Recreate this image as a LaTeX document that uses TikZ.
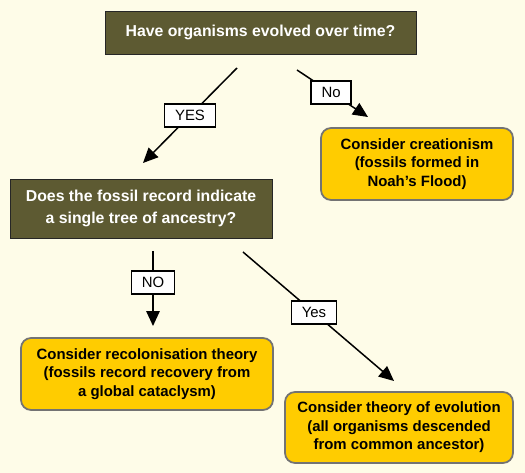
\documentclass[tikz,border=0pt]{standalone}
\usepackage{fontspec}
\setmainfont{Liberation Sans}
\usetikzlibrary{arrows.meta, positioning}
\definecolor{cream}{HTML}{FEFCE8}
\definecolor{olivebox}{HTML}{5D5A32}
\definecolor{goldbox}{HTML}{FFCC00}
\tikzset{
    question/.style={ % Dark boxes holding the questions
    draw=black!85,
    fill=olivebox,
    text=white,
    font=\bfseries\fontsize{9}{12.5}\selectfont,
    align=center},
    answer/.style={ % Yellow boxes with the conclusions
    draw=black!55,
    line width=1pt,
    fill=goldbox,
    rounded corners=0.2cm,
    font=\bfseries\fontsize{8.5}{10.6}\selectfont,
    align=center},
    choice/.style={ % Little white labels on the arrows
    draw,
    fill=white,
    font=\fontsize{8.5}{10}\selectfont,
    inner xsep=6pt,
    minimum height=0.46cm},
    flow/.style={ % The arrows, with big filled heads
    draw,
    line width=0.85pt,
    -{Triangle[length=0.3cm, width=0.27cm]}}}
\begin{document}
\begin{tikzpicture}[x=0.02cm, y=-0.02cm]
    % Page
    \fill[cream] (0, 0) rectangle (525, 473);
    \useasboundingbox (0, 0) rectangle (525, 473);

    % Questions
    \node[question, minimum width=6.22cm, minimum height=0.86cm] (evolved) at (260.5, 32.5)
        {Have organisms evolved over time?};
    \node[question, minimum width=5.24cm, minimum height=1.18cm] (tree) at (141, 208.5)
        {Does the fossil record indicate\\a single tree of ancestry?};

    % Conclusions
    \node[answer, minimum width=3.84cm, minimum height=1.44cm] (creation) at (417, 164)
        {Consider creationism\\(fossils formed in\\Noah’s Flood)};
    \node[answer, minimum width=5.04cm, minimum height=1.44cm] (recolon) at (147, 374)
        {Consider recolonisation theory\\(fossils record recovery from\\a global cataclysm)};
    \node[answer, minimum width=4.56cm, minimum height=1.42cm] (evolution) at (399, 427.5)
        {Consider theory of evolution\\(all organisms descended\\from common ancestor)};

    % Arrow ends
    \coordinate (yesFrom) at (237, 68);
    \coordinate (yesTo) at (143, 163);
    \coordinate (noFrom) at (297, 70);
    \coordinate (noTo) at (368, 117);
    \coordinate (treeNoFrom) at (153, 251);
    \coordinate (treeNoTo) at (153, 326);
    \coordinate (treeYesFrom) at (243, 252);
    \coordinate (treeYesTo) at (394, 381);

    % Arrows
    \draw[flow] (yesFrom) -- node[choice] {YES} (yesTo);
    \draw[flow] (noFrom) -- node[choice, pos=0.48] {No} (noTo);
    \draw[flow] (treeNoFrom) -- node[choice, pos=0.42] {NO} (treeNoTo);
    \draw[flow] (treeYesFrom) -- node[choice, pos=0.47] {Yes} (treeYesTo);
\end{tikzpicture}
\end{document}
